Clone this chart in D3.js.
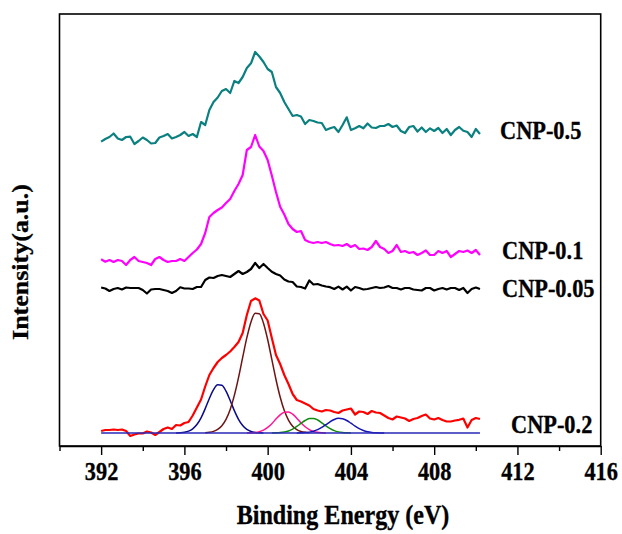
<!DOCTYPE html>
<html>
<head>
<meta charset="utf-8">
<script src="https://cdn.jsdelivr.net/npm/d3@7"></script>
<style>
  body { margin: 0; background: #fff; }
  text { font-family: "Liberation Serif", "Times New Roman", serif; font-weight: bold; fill: #000; stroke: #000; stroke-width: 0.35px; }
</style>
</head>
<body>
<svg id="chart" width="622" height="534"></svg>
<script>
// N 1s spectra, binding energy grid from 392 eV in steps of 0.2 eV
var energyStart = 392;
var energyStep = 0.2;

var cnp05 = [304.3,307,309,312.5,307.5,306,309,309.3,302,305,
  308.5,306,302.5,303,308.5,310,312,307.5,309,311,
  314,310,312,309,324,321,336,344,348.5,355,
  357,353,365,363,369,378,382.7,394,389.5,384,
  377,374,359,353,344,337,330,331,329.5,322,
  326,325,323.5,323,316,317.7,319,314,321,328.7,
  316,317.7,320,317.7,322.5,318.5,318,320,320,322,
  319,320.5,315,313,319,320,314.5,318.5,314,317.7,
  315,318,313,317,311,316,319,315.3,314,309,
  317,312];

var cnp01 = [186.7,184.3,186,184,186,185,181,186,189,185,
  184,183,181,187,189,186,184,185,185,187,
  185,189,193,196.5,202,213,229,233,236,238.5,
  243,247,255,262,271,296,299,311,299.5,295,
  286,270.5,254,239.3,231.5,222,217,214,215,206,
  204,203,204,203,204,202,200.5,201,200,202,
  199,201,197,197.5,196,199,205,199,197,193,
  195,201,194,195,193,194,191,193,195.5,191,
  191,195,193,195,189,192,195,194,195.5,193,
  196,191];

var cnp005 = [158.5,157.5,155,157,158,156.5,158.5,158,158,158,
  156,152.5,156.5,157,157,156,155,153,155,158.7,
  157.5,157.5,157,159,159,166,168.5,168,170,171,
  170,169,172,175,172,174,177,183,178,182,
  178,174.3,172,170.5,166.5,164.5,164,159.5,159,157.5,
  165.5,161.5,162,160.5,159.5,158.8,157,159.4,156.5,159.4,
  155.5,159,158,156.5,157,158,159,158,158.5,160,
  158,158,156.5,158,158,156.5,156,155.5,158,158,
  155.5,157,158,156.5,158,158,156,158,153,157,
  158.5,157];

var cnp02 = [15,16,16,16.5,16,16.5,15,10,11.5,12.5,
  12.5,14.5,13.5,11,14,17,18.5,17,21,20.5,
  23,24,30.5,38.5,46.5,59.5,71,78,84,88,
  91,94.5,99,104,113,131,145,147.7,145.5,132,
  125.5,108,91,82,71,62,52,46,44.5,42.5,
  40.5,37,35.5,34.5,36,35.5,34,33,35.5,36.5,
  37.5,31.5,34.5,34,32,35,33.5,33,30.5,28,
  26.5,29.5,28.5,27.5,25,27,28,30,31.5,27.5,
  26.5,28,26,24.5,24.5,25.5,26.2,27.5,18.5,26,
  28,27];

// fitted components of CNP-0.2, height above the fit baseline
var fitBaseline = 13;
var fitEnd = 410.2;
var fit1Start = 395.6;
var fit1 = [0.07,0.24,0.71,1.83,4.18,8.47,15.2,24.35,34.5,43.3,48.2,47.7,41.8,32.5,22.4,13.7,7.43,3.57,1.53,0.58,0.19,0.06];
var fit2Start = 397.0;
var fit2 = [0.27,0.70,1.65,3.61,7.29,13.6,23.5,37.6,55.4,75.6,95.3,111.1,119.7,119.3,109.8,93.5,73.6,53.5,36.0,22.4,12.9,6.82,3.35,1.52,0.64,0.25];
var fit3Start = 399.0;
var fit3 = [0.06,0.19,0.54,1.33,2.89,5.54,9.33,13.9,18.1,20.8,21.1,18.8,14.8,10.2,6.21,3.33,1.57,0.65,0.24,0.07];
var fit4Start = 400.2;
var fit4 = [0.05,0.14,0.39,0.96,2.06,3.90,6.52,9.62,12.5,14.4,14.6,13.0,10.2,7.12,4.37,2.36,1.13,0.47,0.18,0.06];
var fit5Start = 401.4;
var fit5 = [0.05,0.15,0.39,0.88,1.82,3.37,5.60,8.36,11.2,13.5,14.65,14.3,12.5,9.81,6.93,4.40,2.51,1.28,0.59,0.25,0.09,0.03];

var seriesNames = ['CNP-0.5', 'CNP-0.1', 'CNP-0.05', 'CNP-0.2'];
var xTickValues = [390,392,394,396,398,400,402,404,406,408,410,412,414,416];
var xLabelled = [392,396,400,404,408,412,416];

var svg = d3.select('#chart');
var plotLeft = 59.5, plotRight = 600.7, plotTop = 14, plotBottom = 446;
var squeeze = 0.86;

var x = d3.scaleLinear().domain([390, 416]).range([plotLeft, plotRight]);
var y = d3.scaleLinear().domain([0, 432]).range([plotBottom, plotTop]);

function toPoints(start, values, offset) {
  return values.map(function(v, i) {
    return [start + i * energyStep, v + (offset || 0)];
  });
}

var line = d3.line()
  .x(function(d) { return x(d[0]); })
  .y(function(d) { return y(d[1]); });

var smooth = d3.line()
  .curve(d3.curveMonotoneX)
  .x(function(d) { return x(d[0]); })
  .y(function(d) { return y(d[1]); });

var spectra = [
  { name: seriesNames[0], values: cnp05, color: '#0b8080', lx: 500, ly: 139 },
  { name: seriesNames[1], values: cnp01, color: '#ff00ff', lx: 502, ly: 258.5 },
  { name: seriesNames[2], values: cnp005, color: '#000000', lx: 502, ly: 296.5 },
  { name: seriesNames[3], values: cnp02, color: '#ff0000', lx: 511, ly: 433 }
];

spectra.forEach(function(s) {
  svg.append('path')
    .datum(toPoints(energyStart, s.values))
    .attr('d', line)
    .attr('fill', 'none')
    .attr('stroke', s.color)
    .attr('stroke-width', 2.2)
    .attr('stroke-linejoin', 'round');
});

var fits = [
  { start: fit1Start, values: fit1, color: '#0a0a8a' },
  { start: fit2Start, values: fit2, color: '#6e1414' },
  { start: fit3Start, values: fit3, color: '#ff1493' },
  { start: fit4Start, values: fit4, color: '#108a10' },
  { start: fit5Start, values: fit5, color: '#1414b4' }
];

fits.forEach(function(f) {
  svg.append('path')
    .datum(toPoints(f.start, f.values, fitBaseline))
    .attr('d', smooth)
    .attr('fill', 'none')
    .attr('stroke', f.color)
    .attr('stroke-width', 1.5);
});

// fit baseline
svg.append('line')
  .attr('x1', x(energyStart)).attr('x2', x(fitEnd))
  .attr('y1', y(fitBaseline)).attr('y2', y(fitBaseline))
  .attr('stroke', '#2828b8')
  .attr('stroke-width', 1.5);

// frame
svg.append('rect')
  .attr('x', plotLeft).attr('y', plotTop)
  .attr('width', plotRight - plotLeft).attr('height', plotBottom - plotTop)
  .attr('fill', 'none')
  .attr('stroke', '#000')
  .attr('stroke-width', 1.6);

var xAxis = svg.append('g')
  .attr('transform', 'translate(0,' + plotBottom + ')')
  .call(d3.axisBottom(x)
    .tickValues(xTickValues)
    .tickSizeOuter(0)
    .tickFormat(function(d) { return xLabelled.indexOf(d) >= 0 ? d : ''; }));

xAxis.select('.domain').attr('stroke-width', 1.6);
xAxis.selectAll('.tick line')
  .attr('stroke-width', 1.4)
  .attr('y2', function(d) { return xLabelled.indexOf(d) >= 0 ? 9 : 5; });
xAxis.selectAll('.tick text')
  .attr('y', 34)
  .attr('dy', 0)
  .attr('transform', 'scale(' + squeeze + ',1)')
  .style('font-size', '26px')
  .style('font-family', '"Liberation Serif", serif')
  .style('font-weight', 'bold');

// series labels
svg.selectAll('.series-label')
  .data(spectra)
  .enter()
  .append('text')
  .attr('class', 'series-label')
  .attr('transform', function(d) { return 'translate(' + d.lx + ',' + d.ly + ') scale(' + squeeze + ',1)'; })
  .style('font-size', '26px')
  .text(function(d) { return d.name; });

// axis titles
svg.append('text')
  .attr('transform', 'translate(343,524) scale(' + squeeze + ',1)')
  .attr('text-anchor', 'middle')
  .style('font-size', '28px')
  .text('Binding Energy (eV)');

svg.append('text')
  .attr('transform', 'translate(28,262) rotate(-90) scale(1,' + squeeze + ')')
  .attr('text-anchor', 'middle')
  .style('font-size', '26px')
  .text('Intensity(a.u.)');
</script>
</body>
</html>
